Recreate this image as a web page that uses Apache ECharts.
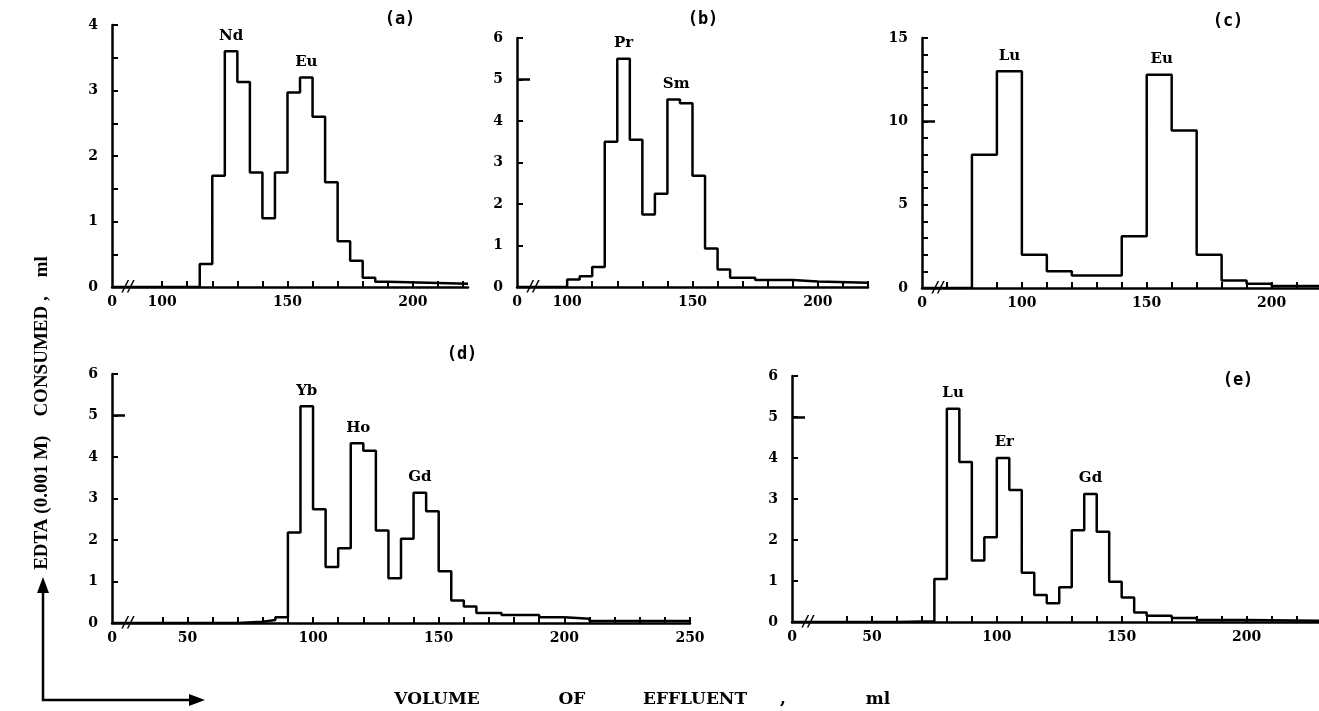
<!DOCTYPE html>
<html>
<head>
<meta charset="utf-8">
<script src="https://cdn.jsdelivr.net/npm/echarts@6/dist/echarts.min.js"></script>
<style>
  html, body { margin: 0; padding: 0; background: #fff; }
  #chart { width: 1319px; height: 711px; }
</style>
</head>
<body>
<div id="chart"></div>
<script>
// histogram data: bin edges (ml) and EDTA consumed in each bin (0.001 M, ml)
// (a) Nd / Eu
const edgesA = [80, 115, 120, 125, 130, 135, 140, 145, 150, 155, 160, 165, 170, 175, 180, 185, 190, 222];
const valuesA = [0, 0.35, 1.7, 3.6, 3.13, 1.75, 1.05, 1.75, 2.97, 3.2, 2.6, 1.6, 0.7, 0.4, 0.14, 0.08, 0.05];
const peakNamesA = ['Nd', 'Eu'];
const peakXA = [127.5, 157.5];
const xLabelsA = [100, 150, 200];
const yLabelsA = [0, 1, 2, 3, 4];

// (b) Pr / Sm
const edgesB = [80, 100, 105, 110, 115, 120, 125, 130, 135, 140, 145, 150, 155, 160, 165, 175, 190, 200, 220];
const valuesB = [0, 0.18, 0.26, 0.48, 3.5, 5.5, 3.55, 1.75, 2.25, 4.52, 4.43, 2.68, 0.93, 0.42, 0.22, 0.17, 0.13, 0.1];
const peakNamesB = ['Pr', 'Sm'];
const peakXB = [122.5, 143.5];
const xLabelsB = [100, 150, 200];
const yLabelsB = [0, 1, 2, 3, 4, 5, 6];

// (c) Lu / Eu
const edgesC = [60, 80, 90, 100, 110, 120, 140, 150, 160, 170, 180, 190, 200, 219];
const valuesC = [0, 8, 13, 2, 1, 0.75, 3.1, 12.8, 9.45, 2, 0.45, 0.25, 0.12];
const peakNamesC = ['Lu', 'Eu'];
const peakXC = [95, 156];
const xLabelsC = [100, 150, 200];
const yLabelsC = [0, 5, 10, 15];

// (d) Yb / Ho / Gd
const edgesD = [20, 70, 80, 85, 90, 95, 100, 105, 110, 115, 120, 125, 130, 135, 140, 145, 150, 155, 160, 165, 175, 190, 200, 210, 250];
const valuesD = [0, 0.03, 0.07, 0.14, 2.18, 5.22, 2.74, 1.35, 1.8, 4.33, 4.15, 2.23, 1.08, 2.03, 3.14, 2.69, 1.25, 0.54, 0.4, 0.24, 0.19, 0.14, 0.1, 0.05];
const peakNamesD = ['Yb', 'Ho', 'Gd'];
const peakXD = [97.5, 118, 142.5];
const xLabelsD = [50, 100, 150, 200, 250];
const yLabelsD = [0, 1, 2, 3, 4, 5, 6];

// (e) Lu / Er / Gd
const edgesE = [18, 60, 75, 80, 85, 90, 95, 100, 105, 110, 115, 120, 125, 130, 135, 140, 145, 150, 155, 160, 170, 180, 200, 229];
const valuesE = [0, 0.02, 1.05, 5.2, 3.9, 1.5, 2.07, 4.0, 3.22, 1.2, 0.66, 0.46, 0.85, 2.24, 3.12, 2.2, 0.98, 0.6, 0.23, 0.15, 0.1, 0.05, 0.03];
const peakNamesE = ['Lu', 'Er', 'Gd'];
const peakXE = [82.5, 103, 137.5];
const xLabelsE = [50, 100, 150, 200];
const yLabelsE = [0, 1, 2, 3, 4, 5, 6];

const INK = '#000';
const NUM_FONT = 'DejaVu Serif';

const chart = echarts.init(document.getElementById('chart'));

const panels = [
  { letter: '(a)', grid: { left: 112, top: 25, width: 356, height: 262 }, xMin: 80, xMax: 222, tickFrom: 100,
    yMax: 4, yStep: 0.5, longTick: null, edges: edgesA, values: valuesA, names: peakNamesA, px: peakXA,
    xLabels: xLabelsA, yLabels: yLabelsA, letterPos: [400, 20] },
  { letter: '(b)', grid: { left: 517, top: 38, width: 351, height: 249 }, xMin: 80, xMax: 220, tickFrom: 100,
    yMax: 6, yStep: 1, longTick: 5, edges: edgesB, values: valuesB, names: peakNamesB, px: peakXB,
    xLabels: xLabelsB, yLabels: yLabelsB, letterPos: [703, 20] },
  { letter: '(c)', grid: { left: 922, top: 38, width: 397, height: 250 }, xMin: 60, xMax: 219, tickFrom: 70,
    yMax: 15, yStep: 1, longTick: 10, edges: edgesC, values: valuesC, names: peakNamesC, px: peakXC,
    xLabels: xLabelsC, yLabels: yLabelsC, letterPos: [1228, 22] },
  { letter: '(d)', grid: { left: 112, top: 374, width: 578, height: 249 }, xMin: 20, xMax: 250, tickFrom: 40,
    yMax: 6, yStep: 1, longTick: 5, edges: edgesD, values: valuesD, names: peakNamesD, px: peakXD,
    xLabels: xLabelsD, yLabels: yLabelsD, letterPos: [462, 355] },
  { letter: '(e)', grid: { left: 792, top: 376, width: 527, height: 246 }, xMin: 18, xMax: 229, tickFrom: 40,
    yMax: 6, yStep: 1, longTick: 5, edges: edgesE, values: valuesE, names: peakNamesE, px: peakXE,
    xLabels: xLabelsE, yLabels: yLabelsE, letterPos: [1238, 381] }
];

function steps(edges, values) {
  const pts = values.map((v, i) => [edges[i], v]);
  pts.push([edges[edges.length - 1], values[values.length - 1]]);
  return pts;
}

function binValue(edges, values, x) {
  for (let i = 0; i < values.length; i++) {
    if (x >= edges[i] && x < edges[i + 1]) return values[i];
  }
  return 0;
}

function range(from, to, step) {
  const out = [];
  for (let v = from; v <= to + 1e-9; v += step) out.push(Math.round(v * 100) / 100);
  return out;
}

const grids = [], xAxes = [], yAxes = [], series = [];

panels.forEach((p, i) => {
  grids.push(p.grid);
  xAxes.push({
    type: 'value', gridIndex: i, min: p.xMin, max: p.xMax,
    axisLine: { show: true, lineStyle: { color: INK, width: 2.5 } },
    axisTick: { show: true, inside: true, length: 6, customValues: range(p.tickFrom, p.xMax, 10),
      lineStyle: { color: INK, width: 2 } },
    axisLabel: { customValues: [p.xMin].concat(p.xLabels), margin: 8,
      formatter: v => (v === p.xMin ? '0' : String(v)),
      color: INK, fontFamily: NUM_FONT, fontWeight: 'bold', fontSize: 14 },
    splitLine: { show: false }
  });
  const mainY = yAxes.length;
  yAxes.push({
    type: 'value', gridIndex: i, min: 0, max: p.yMax, position: 'left',
    axisLine: { show: true, lineStyle: { color: INK, width: 2.5 } },
    axisTick: { show: true, inside: true, length: 6, customValues: range(p.yStep, p.yMax, p.yStep),
      lineStyle: { color: INK, width: 2 } },
    axisLabel: { customValues: p.yLabels, margin: 14,
      color: INK, fontFamily: NUM_FONT, fontWeight: 'bold', fontSize: 14 },
    splitLine: { show: false }
  });
  if (p.longTick !== null) {
    // one longer tick, drawn on the same left axis
    yAxes.push({
      type: 'value', gridIndex: i, min: 0, max: p.yMax, position: 'left', offset: 0,
      axisLine: { show: false },
      axisTick: { show: true, inside: true, length: 13, customValues: [p.longTick],
        lineStyle: { color: INK, width: 2.5 } },
      axisLabel: { show: false },
      splitLine: { show: false }
    });
  }

  series.push({
    type: 'line', xAxisIndex: i, yAxisIndex: mainY, step: 'end', symbol: 'none', silent: true,
    lineStyle: { color: INK, width: 2.5 },
    data: steps(p.edges, p.values)
  });
  series.push({
    type: 'scatter', xAxisIndex: i, yAxisIndex: mainY, symbolSize: 0, silent: true,
    itemStyle: { opacity: 1, color: INK },
    label: { show: true, position: 'top', distance: 8, formatter: '{b}',
      color: INK, fontFamily: NUM_FONT, fontWeight: 'bold', fontSize: 15 },
    data: p.names.map((n, k) => ({ name: n, value: [p.px[k], binValue(p.edges, p.values, p.px[k])] }))
  });
  // axis break mark next to the origin
  series.push({
    type: 'scatter', xAxisIndex: i, yAxisIndex: mainY, symbolSize: 0, silent: true,
    itemStyle: { opacity: 1, color: INK },
    label: { show: true, position: 'inside', offset: [16, 0], formatter: '//',
      color: INK, fontFamily: NUM_FONT, fontWeight: 'bold', fontStyle: 'italic', fontSize: 15 },
    data: [[p.xMin, 0]]
  });
});

const titleFont = { fontFamily: 'DejaVu Serif', fontWeight: 'bold', fontSize: 17, fill: INK };
const xTitleWords = [['VOLUME', 437], ['OF', 572], ['EFFLUENT', 695], [',', 783], ['ml', 878]];

const graphics = [
  {
    type: 'text', x: 42, y: 413, rotation: Math.PI / 2,
    style: { text: 'EDTA (0.001 M)    CONSUMED ,    ml', fontFamily: 'Liberation Serif', fontWeight: 'bold',
      fontSize: 19, fill: INK, align: 'center', verticalAlign: 'middle' }
  },
  { type: 'polyline', shape: { points: [[43, 588], [43, 700], [194, 700]] }, style: { stroke: INK, lineWidth: 2.5, fill: null } },
  { type: 'polygon', shape: { points: [[37, 593], [43, 577], [49, 593]] }, style: { fill: INK } },
  { type: 'polygon', shape: { points: [[189, 694], [205, 700], [189, 706]] }, style: { fill: INK } }
];
xTitleWords.forEach(w => graphics.push({
  type: 'text', x: w[1], y: 700,
  style: Object.assign({ text: w[0], align: 'center', verticalAlign: 'middle' }, titleFont)
}));
panels.forEach(p => graphics.push({
  type: 'text', x: p.letterPos[0], y: p.letterPos[1],
  style: { text: p.letter, fontFamily: 'DejaVu Sans Mono', fontWeight: 'bold', fontSize: 17, fill: INK,
    align: 'center', verticalAlign: 'middle' }
}));

chart.setOption({
  animation: false,
  backgroundColor: '#fff',
  grid: grids,
  xAxis: xAxes,
  yAxis: yAxes,
  series: series,
  graphic: graphics
});
</script>
</body>
</html>
